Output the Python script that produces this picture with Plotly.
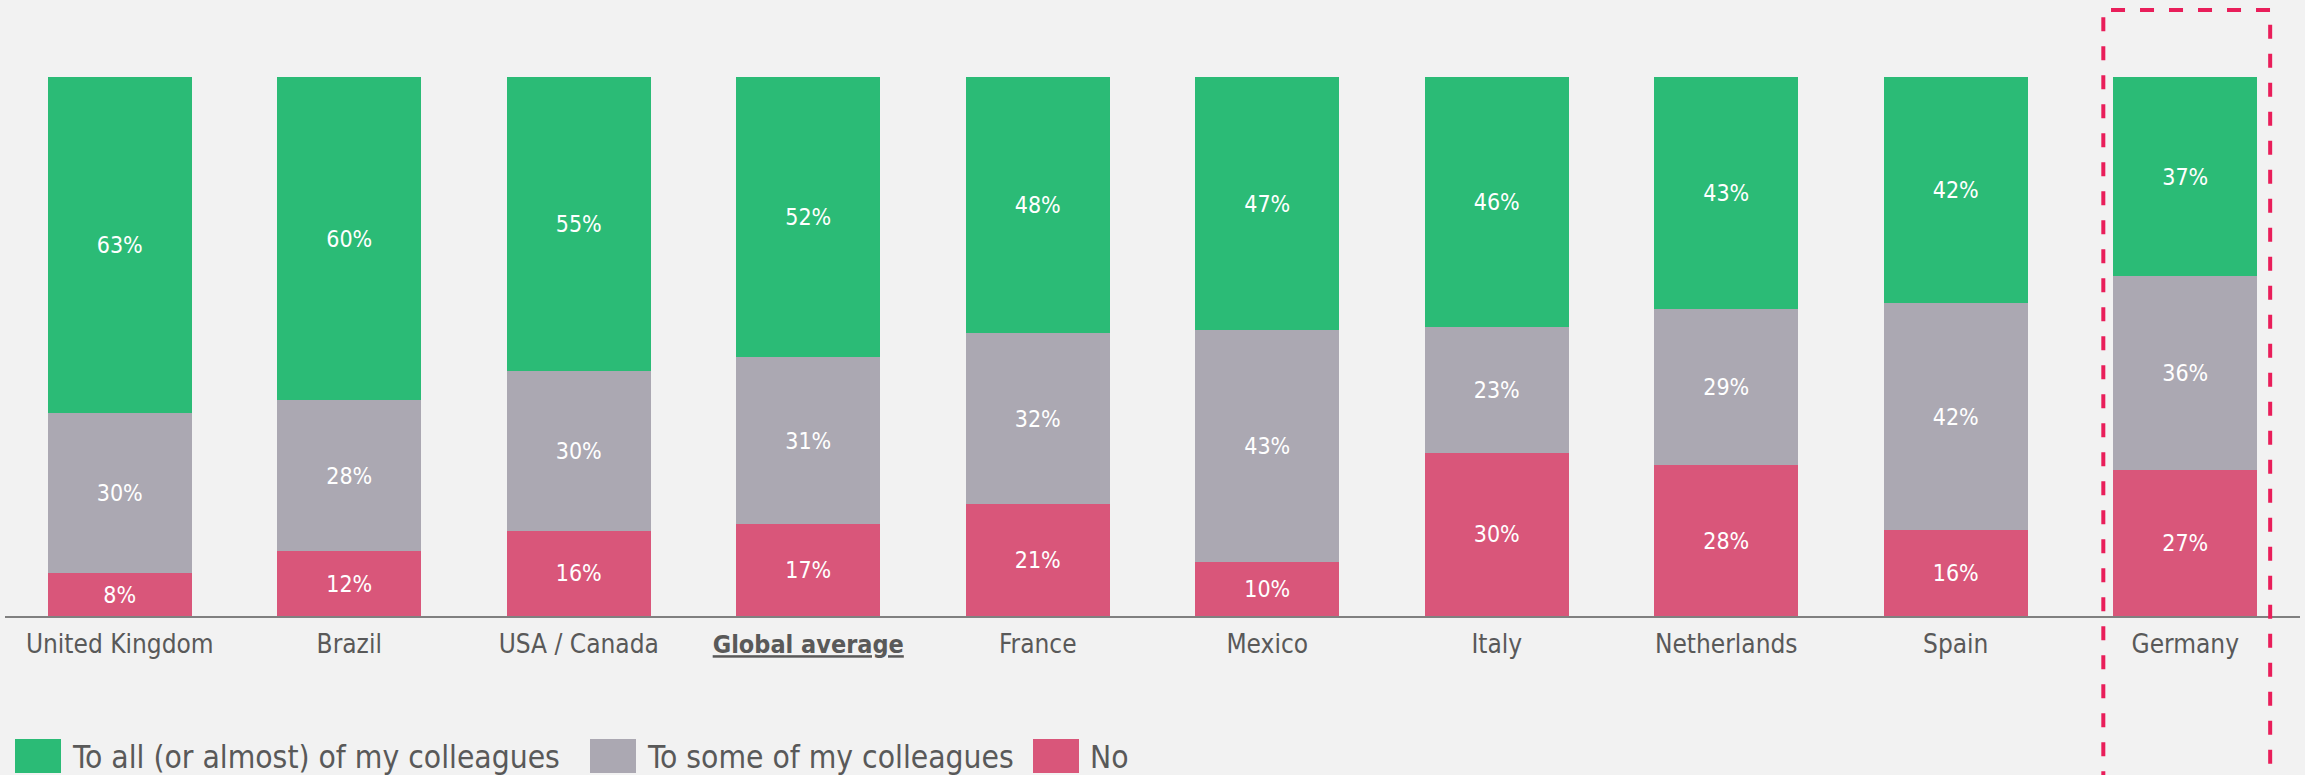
import plotly.graph_objects as go

# ---- data ----
categories = ["United Kingdom", "Brazil", "USA / Canada", "Global average", "France",
              "Mexico", "Italy", "Netherlands", "Spain", "Germany"]
tick_labels = ["United Kingdom", "Brazil", "USA / Canada",
               "<span style='font-size:25px'><b><u>Global average</u></b></span>", "France",
               "Mexico", "Italy", "Netherlands", "Spain", "Germany"]
series_names = ["To all (or almost) of my colleagues", "To some of my colleagues", "No"]
all_colleagues = [63, 60, 55, 52, 48, 47, 46, 43, 42, 37]
some_colleagues = [30, 28, 30, 31, 32, 43, 23, 29, 42, 36]
no_values = [8, 12, 16, 17, 21, 10, 30, 28, 16, 27]
highlight = "Germany"

# ---- style ----
W, H = 2305, 775
ML, MR, MT, MB = 5, 5, 77, 159
BG = "#F2F2F2"
TXT = "#595959"
FONT = "DejaVu Sans Condensed"
colors = ["#2BBB76", "#ABA8B2", "#D9567A"]

fig = go.Figure()
# stack from bottom: No, Some, All
for name, vals, col in [(series_names[2], no_values, colors[2]),
                        (series_names[1], some_colleagues, colors[1]),
                        (series_names[0], all_colleagues, colors[0])]:
    fig.add_trace(go.Bar(
        x=categories, y=vals, name=name, marker=dict(color=col, line=dict(width=0)),
        text=vals, texttemplate="%{text}%", textposition="inside",
        insidetextanchor="middle", textangle=0,
        textfont=dict(family=FONT, size=23, color="white"),
        showlegend=False, hoverinfo="skip",
    ))

pw, ph = W - ML - MR, H - MT - MB
def px_x(x):
    return (x - ML) / pw
def px_y(y):
    return (H - MB - y) / ph

shapes = []
annotations = []
# legend (manual, large swatches)
legend_items = [(series_names[0], colors[0], 15), (series_names[1], colors[1], 590), (series_names[2], colors[2], 1033)]
for name, col, x0 in legend_items:
    shapes.append(dict(type="rect", xref="paper", yref="paper",
                       x0=px_x(x0), x1=px_x(x0 + 46), y0=px_y(773), y1=px_y(739),
                       fillcolor=col, line=dict(width=0), layer="above"))
    annotations.append(dict(xref="paper", yref="paper", x=px_x(x0 + 55), y=px_y(757),
                            xanchor="left", yanchor="middle", text=name, showarrow=False,
                            font=dict(family=FONT, size=31.5, color=TXT)))

# highlight box around Germany
gi = categories.index(highlight)
shapes.append(dict(type="rect", xref="x", yref="paper",
                   x0=gi - 0.357, x1=gi + 0.37, y0=px_y(800), y1=px_y(10),
                   line=dict(color="#E91E5A", width=4, dash="14px,15px"),
                   fillcolor="rgba(0,0,0,0)", layer="above"))

fig.update_layout(
    width=W, height=H,
    margin=dict(l=ML, r=MR, t=MT, b=MB),
    paper_bgcolor=BG, plot_bgcolor=BG,
    barmode="stack", barnorm="percent", bargap=0.373,
    shapes=shapes, annotations=annotations,
    font=dict(family=FONT, color=TXT),
    xaxis=dict(type="category", tickmode="array", tickvals=categories, ticktext=tick_labels,
               showline=True, linecolor="#808080", linewidth=2, ticks="",
               ticklabelstandoff=4,
               tickfont=dict(family=FONT, size=26, color=TXT), showgrid=False,
               zeroline=False, fixedrange=True),
    yaxis=dict(range=[0, 100], visible=False, showgrid=False, zeroline=False),
)

fig.write_html("out.html")
